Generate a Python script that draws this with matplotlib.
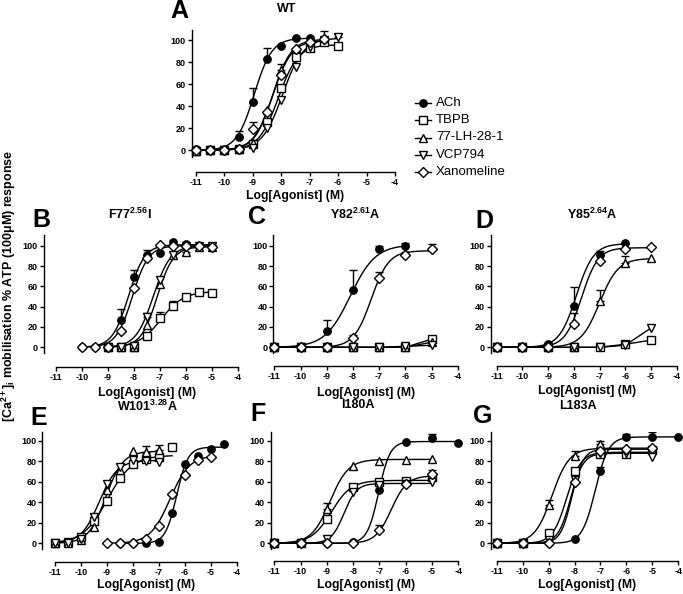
import numpy as np
import matplotlib
matplotlib.use('Agg')
import matplotlib.pyplot as plt
from matplotlib.lines import Line2D

plt.rcParams['font.family'] = ['Liberation Sans', 'DejaVu Sans']
plt.rcParams['font.weight'] = 'bold'
plt.rcParams['axes.unicode_minus'] = False
plt.rcParams['mathtext.fontset'] = 'custom'
plt.rcParams['mathtext.rm'] = 'Liberation Sans:bold'
plt.rcParams['mathtext.it'] = 'Liberation Sans:bold:italic'
plt.rcParams['mathtext.bf'] = 'Liberation Sans:bold'

# ---------------- data ----------------
compounds = ['ACh', 'TBPB', '77-LH-28-1', 'VCP794', 'Xanomeline']
xticks = [-11, -10, -9, -8, -7, -6, -5, -4]
yticks = [0, 20, 40, 60, 80, 100]
titles = {'A': 'WT', 'B': 'F77$^{2.56}$I', 'C': 'Y82$^{2.61}$A', 'D': 'Y85$^{2.64}$A',
          'E': 'W101$^{3.28}$A', 'F': 'I180A', 'G': 'L183A'}
xlabel = 'Log[Agonist] (M)'
ylabel = '[Ca$^{2+}$]$_\\mathregular{i}$ mobilisation % ATP (100μM) response'

# fit params: (bottom, top, logEC50, hill); None -> points joined
# Panel A (WT)
A_ach_x = [-11, -10.5, -10, -9.5, -9, -8.5, -8, -7.5, -7]
A_ach_y = [1, 0, 0, 12, 44, 83, 95, 102, 102]
A_ach_e = [0, 0, 0, 6, 13, 10, 0, 0, 0]
A_ach_fit = (0, 102, -8.95, 1.4)
A_tbpb_x = [-11, -10.5, -10, -9.5, -9, -8.5, -8, -7.5, -7, -6.5, -6]
A_tbpb_y = [-1, 0, 0, 1, 6, 26, 57, 85, 93, 98, 95]
A_tbpb_e = [0] * 11
A_tbpb_fit = (0, 96, -8.1, 1.25)
A_lh_x = [-11, -10.5, -10, -9.5, -9, -8.5, -8, -7.5, -7, -6.5]
A_lh_y = [-1, 0, 0, 1, 7, 37, 73, 93, 100, 102]
A_lh_e = [0, 0, 0, 0, 0, 0, 5, 0, 0, 6]
A_lh_fit = (0, 101, -8.3, 1.35)
A_vcp_x = [-11, -10.5, -10, -9.5, -9, -8.5, -8, -7.5, -7, -6.5, -6]
A_vcp_y = [-1, 0, 0, 0, 2, 20, 46, 76, 94, 100, 103]
A_vcp_e = [0, 0, 0, 0, 0, 0, 0, 0, 0, 0, 3]
A_vcp_fit = (0, 102, -7.95, 1.2)
A_xan_x = [-11, -10.5, -10, -9.5, -9, -8.5, -8, -7.5, -7, -6.5]
A_xan_y = [0, 0, 0, 1, 19, 35, 68, 92, 98, 101]
A_xan_e = [0, 0, 0, 0, 7, 0, 0, 0, 0, 0]
A_xan_fit = (0, 100, -8.3, 1.3)

# Panel B (F77I)
B_ach_x = [-10, -9.5, -9, -8.5, -8, -7.5, -7, -6.5, -6, -5.5, -5]
B_ach_y = [0, 0, 0, 27, 69.5, 91, 93, 104, 101.7, 100, 100]
B_ach_e = [0, 0, 0, 11, 6.5, 5, 0, 0, 0, 0, 0]
B_ach_fit = (0, 101, -8.2, 1.4)
B_tbpb_x = [-9, -8.5, -8, -7.5, -7, -6.5, -6, -5.5, -5]
B_tbpb_y = [0, 0, 0, 11, 28.5, 40.6, 49.8, 54.7, 53.7]
B_tbpb_e = [0, 0, 0, 0, 6.5, 5, 0, 0, 0]
B_tbpb_fit = (0, 55, -6.95, 1.0)
B_lh_x = [-9, -8.5, -8, -7.5, -7, -6.5, -6, -5.5, -5]
B_lh_y = [0, 0, 0, 22, 62, 91, 94, 99, 99]
B_lh_e = [0, 0, 0, 0, 0, 0, 5, 0, 0]
B_lh_fit = (0, 99, -7.1, 1.4)
B_vcp_x = [-9, -8.5, -8, -7.5, -7, -6.5, -6, -5.5, -5]
B_vcp_y = [0, 0, 1, 30, 66, 91, 100, 100, 100]
B_vcp_e = [0, 0, 0, 4, 0, 0, 0, 0, 0]
B_vcp_fit = (0, 100, -7.25, 1.3)
B_xan_x = [-10, -9.5, -9, -8.5, -8, -7.5, -7, -6.5, -6, -5.5, -5]
B_xan_y = [0, 0, 0, 16, 58, 87.6, 100.7, 100, 100, 100, 99]
B_xan_e = [0] * 11
B_xan_fit = (0, 100, -8.05, 1.4)

# Panel C (Y82A)
C_ach_x = [-11, -10, -9, -8, -7, -6]
C_ach_y = [0, 0, 16, 56, 97, 100]
C_ach_e = [0, 0, 11, 20, 3, 3]
C_ach_fit = (0, 101, -8.1, 0.9)
C_tbpb_x = [-11, -10, -9, -8, -7, -6, -5]
C_tbpb_y = [0, 0, 0, 0, 0, 0, 8]
C_tbpb_e = [0] * 7
C_tbpb_fit = None
C_lh_x = [-11, -10, -9, -8, -7, -6, -5]
C_lh_y = [0, 0, 0, 0, 0, 0, 5]
C_lh_e = [0] * 7
C_lh_fit = None
C_vcp_x = [-11, -10, -9, -8, -7, -6, -5]
C_vcp_y = [0, 0, 0, 0, 0, 1, 2]
C_vcp_e = [0] * 7
C_vcp_fit = None
C_xan_x = [-11, -10, -9, -8, -7, -6, -5]
C_xan_y = [0, 0, 0, 9, 68, 91, 97]
C_xan_e = [0, 0, 0, 3, 6, 3, 5]
C_xan_fit = (0, 95, -7.3, 1.3)

# Panel D (Y85A)
D_ach_x = [-11, -10, -9, -8, -7, -6]
D_ach_y = [0, 0, 3, 41, 91, 103]
D_ach_e = [0, 0, 0, 18, 4, 0]
D_ach_fit = (0, 102, -7.9, 1.3)
D_tbpb_x = [-11, -10, -9, -8, -7, -6, -5]
D_tbpb_y = [0, 0, 0, 0, 0, 3, 7]
D_tbpb_e = [0] * 7
D_tbpb_fit = None
D_lh_x = [-11, -10, -9, -8, -7, -6, -5]
D_lh_y = [0, 0, 0, 0, 46, 83, 88]
D_lh_e = [0, 0, 0, 0, 10, 7, 0]
D_lh_fit = (0, 87.5, -7.0, 1.2)
D_vcp_x = [-11, -10, -9, -8, -7, -6, -5]
D_vcp_y = [0, 0, 0, 0, 0, 2, 19]
D_vcp_e = [0] * 7
D_vcp_fit = None
D_xan_x = [-11, -10, -9, -8, -7, -6, -5]
D_xan_y = [0, 0, 0, 23, 85, 97, 99]
D_xan_e = [0, 0, 0, 11, 0, 0, 0]
D_xan_fit = (0, 98, -7.7, 1.35)

# Panel E (W101A)
E_ach_x = [-8.5, -8, -7.5, -7, -6.5, -6, -5.5, -5, -4.5]
E_ach_y = [0, 0, 0, 1.5, 30, 77.5, 85, 92, 97]
E_ach_e = [0] * 9
E_ach_fit = (0, 94, -6.32, 2.0)
E_tbpb_x = [-11, -10.5, -10, -9.5, -9, -8.5, -8, -7.5, -7, -6.5]
E_tbpb_y = [0, 1, 6.5, 22, 41, 63.5, 77.5, 82.5, 84, 94.5]
E_tbpb_e = [0, 0, 0, 0, 0, 0, 0, 6, 3, 0]
E_tbpb_fit = (0, 86, -8.98, 0.92)
E_lh_x = [-11, -10.5, -10, -9.5, -9, -8.5, -8, -7.5, -7]
E_lh_y = [0, 0, 3, 16, 52, 72, 90, 89.5, 91]
E_lh_e = [0, 0, 0, 0, 0, 0, 0, 6, 5]
E_lh_fit = (0, 90, -9.05, 1.3)
E_vcp_x = [-11, -10.5, -10, -9.5, -9, -8.5, -8, -7.5, -7]
E_vcp_y = [0, 0, 4, 26, 58, 75, 81, 80, 79]
E_vcp_e = [0, 0, 0, 3, 0, 0, 0, 0, 0]
E_vcp_fit = (0, 81, -9.3, 1.25)
E_xan_x = [-9, -8.5, -8, -7.5, -7, -6.5, -6, -5.5, -5]
E_xan_y = [0, 0, 0, 4, 17, 48, 67, 81, 84]
E_xan_e = [0] * 9
E_xan_fit = (0, 86, -6.58, 1.15)

# Panel F (I180A)
F_ach_x = [-11, -10, -9, -8, -7, -6, -5, -4]
F_ach_y = [0, 0, 0, 1, 52, 98.7, 102.6, 98]
F_ach_e = [0, 0, 0, 0, 0, 0, 4, 0]
F_ach_fit = (0, 99.5, -7.03, 2.0)
F_tbpb_x = [-11, -10, -9, -8, -7, -6, -5]
F_tbpb_y = [0, 0, 23.5, 55, 60, 61, 64.5]
F_tbpb_e = [0] * 7
F_tbpb_fit = (0, 61.5, -8.83, 1.15)
F_lh_x = [-11, -10, -9, -8, -7, -6, -5]
F_lh_y = [0, 1, 34, 75.6, 80.5, 81.5, 82]
F_lh_e = [0, 0, 5, 0, 0, 0, 0]
F_lh_fit = (0, 82, -8.88, 1.25)
F_vcp_x = [-11, -10, -9, -8, -7, -6, -5]
F_vcp_y = [0, 0, 4, 50.5, 57, 58, 59.6]
F_vcp_e = [0] * 7
F_vcp_fit = (0, 58.5, -8.35, 1.8)
F_xan_x = [-11, -10, -9, -8, -7, -6, -5]
F_xan_y = [0, 0, 0, 0, 13, 58, 68]
F_xan_e = [0, 0, 0, 0, 5, 0, 4]
F_xan_fit = (0, 66, -6.55, 1.45)

# Panel G (L183A)
G_ach_x = [-11, -10, -9, -8, -7, -6, -5, -4]
G_ach_y = [0, 0, 0, 4, 71, 104, 104, 104]
G_ach_e = [0, 0, 0, 0, 4, 3, 5, 0]
G_ach_fit = (0, 104, -7.2, 1.7)
G_tbpb_x = [-11, -10, -9, -8, -7, -6, -5]
G_tbpb_y = [0, 0, 10, 70.7, 87, 87, 91]
G_tbpb_e = [0] * 7
G_tbpb_fit = (0, 89, -8.3, 1.6)
G_lh_x = [-11, -10, -9, -8, -7, -6, -5]
G_lh_y = [0, 0, 37.5, 85.7, 96.7, 93, 92]
G_lh_e = [0, 0, 5, 5, 3, 0, 0]
G_lh_fit = (0, 93, -8.87, 1.3)
G_vcp_x = [-11, -10, -9, -8, -7, -6, -5]
G_vcp_y = [0, 0, 3, 62, 88, 88, 84.7]
G_vcp_e = [0] * 7
G_vcp_fit = (0, 88, -8.15, 1.8)
G_xan_x = [-11, -10, -9, -8, -7, -6, -5]
G_xan_y = [0, 0, 0, 59.6, 90, 92, 93]
G_xan_e = [0] * 7
G_xan_fit = (0, 92, -8.1, 2.0)

panels = {
    'A': [(A_ach_x, A_ach_y, A_ach_e, A_ach_fit), (A_tbpb_x, A_tbpb_y, A_tbpb_e, A_tbpb_fit),
          (A_lh_x, A_lh_y, A_lh_e, A_lh_fit), (A_vcp_x, A_vcp_y, A_vcp_e, A_vcp_fit),
          (A_xan_x, A_xan_y, A_xan_e, A_xan_fit)],
    'B': [(B_ach_x, B_ach_y, B_ach_e, B_ach_fit), (B_tbpb_x, B_tbpb_y, B_tbpb_e, B_tbpb_fit),
          (B_lh_x, B_lh_y, B_lh_e, B_lh_fit), (B_vcp_x, B_vcp_y, B_vcp_e, B_vcp_fit),
          (B_xan_x, B_xan_y, B_xan_e, B_xan_fit)],
    'C': [(C_ach_x, C_ach_y, C_ach_e, C_ach_fit), (C_tbpb_x, C_tbpb_y, C_tbpb_e, C_tbpb_fit),
          (C_lh_x, C_lh_y, C_lh_e, C_lh_fit), (C_vcp_x, C_vcp_y, C_vcp_e, C_vcp_fit),
          (C_xan_x, C_xan_y, C_xan_e, C_xan_fit)],
    'D': [(D_ach_x, D_ach_y, D_ach_e, D_ach_fit), (D_tbpb_x, D_tbpb_y, D_tbpb_e, D_tbpb_fit),
          (D_lh_x, D_lh_y, D_lh_e, D_lh_fit), (D_vcp_x, D_vcp_y, D_vcp_e, D_vcp_fit),
          (D_xan_x, D_xan_y, D_xan_e, D_xan_fit)],
    'E': [(E_ach_x, E_ach_y, E_ach_e, E_ach_fit), (E_tbpb_x, E_tbpb_y, E_tbpb_e, E_tbpb_fit),
          (E_lh_x, E_lh_y, E_lh_e, E_lh_fit), (E_vcp_x, E_vcp_y, E_vcp_e, E_vcp_fit),
          (E_xan_x, E_xan_y, E_xan_e, E_xan_fit)],
    'F': [(F_ach_x, F_ach_y, F_ach_e, F_ach_fit), (F_tbpb_x, F_tbpb_y, F_tbpb_e, F_tbpb_fit),
          (F_lh_x, F_lh_y, F_lh_e, F_lh_fit), (F_vcp_x, F_vcp_y, F_vcp_e, F_vcp_fit),
          (F_xan_x, F_xan_y, F_xan_e, F_xan_fit)],
    'G': [(G_ach_x, G_ach_y, G_ach_e, G_ach_fit), (G_tbpb_x, G_tbpb_y, G_tbpb_e, G_tbpb_fit),
          (G_lh_x, G_lh_y, G_lh_e, G_lh_fit), (G_vcp_x, G_vcp_y, G_vcp_e, G_vcp_fit),
          (G_xan_x, G_xan_y, G_xan_e, G_xan_fit)],
}

# ---------------- styles / layout ----------------
styles = [dict(marker='o', ms=5.3, mfc='black'),
          dict(marker='s', ms=5.5, mfc='white'),
          dict(marker='^', ms=6.0, mfc='white'),
          dict(marker='v', ms=6.0, mfc='white'),
          dict(marker='D', ms=4.6, mfc='white')]

W, H = 683, 594
# spine_x px, x=-11 px, x=-4 px, y=0 px, y=100 px, bottom axis px, top px
geom = {
    'A': (192, 196, 395, 150.3, 40.3, 172, 30),
    'B': (44, 55.7, 237.7, 347.3, 245.7, 366.7, 235),
    'C': (273.3, 274.3, 457.7, 347.3, 245.7, 365.5, 235),
    'D': (491, 496.7, 676.7, 347.3, 245.7, 366, 235),
    'E': (42.3, 55, 237, 543.3, 441, 561.5, 431.7),
    'F': (271, 274.3, 458.3, 543.3, 441, 561, 431.7),
    'G': (491, 496.7, 678.3, 543.3, 441, 561, 431.7),
}
title_pos = {'A': (287, 9), 'B': (130, 214), 'C': (355, 214), 'D': (592, 214),
             'E': (147, 406), 'F': (358, 405), 'G': (578, 406)}
letter_pos = {'A': (179, 11), 'B': (41, 220), 'C': (257, 217), 'D': (484, 221),
              'E': (39, 418), 'F': (258, 414), 'G': (483, 416)}
xlabel_y = {'A': 196, 'B': 393, 'C': 393, 'D': 391, 'E': 585, 'F': 585, 'G': 585}

fig = plt.figure(figsize=(W / 100, H / 100), dpi=100)
fig.patch.set_facecolor('white')


def fx(px):
    return px / W


def fy(py):
    return 1 - py / H


def make_axes(g):
    ps, p11, p4, py0, py100, pyb, pyt = g
    sx = (p4 - p11) / 7.0
    sy = (py0 - py100) / 100.0
    rpx = p4 + 3
    ax = fig.add_axes([fx(ps), fy(pyb), (rpx - ps) / W, (pyb - pyt) / H])
    ax.set_facecolor('none')
    xmin = -11 - (p11 - ps) / sx
    xmax = -4 + 3 / sx
    ymin = -(pyb - py0) / sy
    ymax = (py0 - pyt) / sy
    ax.set_xlim(xmin, xmax)
    ax.set_ylim(ymin, ymax)
    for s in ['top', 'right']:
        ax.spines[s].set_visible(False)
    ax.spines['left'].set_bounds(-6, ymax)
    ax.spines['bottom'].set_bounds(-11, -4)
    for s in ['left', 'bottom']:
        ax.spines[s].set_linewidth(1.0)
    ax.set_xticks(xticks)
    ax.set_xticklabels([str(t) for t in xticks])
    ax.set_yticks(yticks)
    ax.set_yticklabels([str(t) for t in yticks])
    ax.tick_params(axis='both', direction='out', length=3, width=1.0, labelsize=6.5)
    ax.tick_params(axis='x', pad=1.5)
    ax.tick_params(axis='y', pad=1.3)
    for lab in ax.get_xticklabels() + ax.get_yticklabels():
        lab.set_fontweight('bold')
    return ax


def draw(ax, x, y, e, fit, st):
    x = np.asarray(x, float)
    y = np.asarray(y, float)
    e = np.asarray(e, float)
    if fit is not None:
        b, t, ec, h = fit
        xx = np.linspace(x.min(), x.max(), 300)
        yy = b + (t - b) / (1 + 10 ** ((ec - xx) * h))
        ax.plot(xx, yy, color='black', lw=1.0, zorder=2, clip_on=False)
    else:
        ax.plot(x, y, color='black', lw=1.0, zorder=2, clip_on=False)
    m = e > 0
    if m.any():
        ax.errorbar(x[m], y[m], yerr=[np.zeros(m.sum()), e[m]], fmt='none',
                    ecolor='black', elinewidth=1.0, capsize=2.6, capthick=1.0, zorder=2.5)
    ax.plot(x, y, linestyle='none', marker=st['marker'], ms=st['ms'],
            mfc=st['mfc'], mec='black', mew=1.0, zorder=3, clip_on=False)


for key in ['A', 'B', 'C', 'D', 'E', 'F', 'G']:
    ax = make_axes(geom[key])
    for (x, y, e, fit), st in zip(panels[key], styles):
        draw(ax, x, y, e, fit, st)
    ps, p11, p4 = geom[key][:3]
    fig.text(fx((p11 + p4) / 2), fy(xlabel_y[key]), xlabel, ha='center', va='center',
             fontsize=8.8, fontweight='bold')
    tx, ty = title_pos[key]
    fig.text(fx(tx), fy(ty), titles[key], ha='center', va='center', fontsize=9, fontweight='bold')
    lx, ly = letter_pos[key]
    fig.text(fx(lx), fy(ly), key, ha='center', va='center', fontsize=18, fontweight='bold')

# y label
fig.text(fx(9), fy(286), ylabel, rotation=90, ha='center', va='center', fontsize=9,
         fontweight='bold')

# legend (manual, figure coords)
leg_y0, leg_dy = 103, 17.25
for i, (name, st) in enumerate(zip(compounds, styles)):
    yy = leg_y0 + i * leg_dy
    fig.add_artist(Line2D([fx(415), fx(431)], [fy(yy), fy(yy)], color='black', lw=1.0,
                          transform=fig.transFigure))
    fig.add_artist(Line2D([fx(423)], [fy(yy)], linestyle='none', marker=st['marker'],
                          ms=st['ms'], mfc=st['mfc'], mec='black', mew=1.0,
                          transform=fig.transFigure))
    fig.text(fx(436), fy(yy), name, ha='left', va='center', fontsize=9.5, fontweight='normal')

fig.savefig('out.png', dpi=100)
